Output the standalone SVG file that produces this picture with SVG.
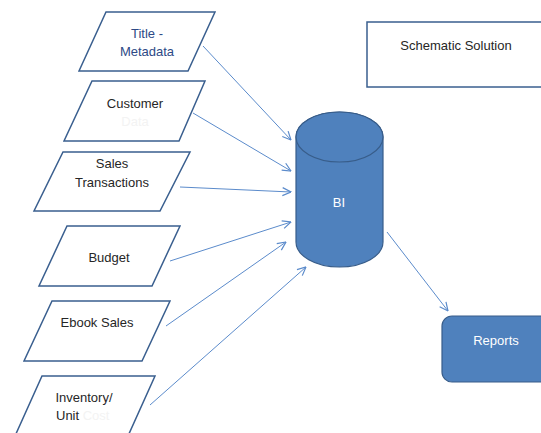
<svg xmlns="http://www.w3.org/2000/svg" width="541" height="433" viewBox="0 0 541 433">
<defs>
<style>
.src{fill:#fff;stroke:#3A5F8F;stroke-width:1.5}
.t{font-family:"Liberation Sans",Arial,sans-serif;font-size:13px;fill:#262626;text-anchor:middle}
.ghost{fill:#f3f3f3}
.w{fill:#fff}
.con line{stroke:#5B8BCB;stroke-width:1;marker-end:url(#ah)}
</style>
<marker id="ah" viewBox="0 0 10 10" refX="9.5" refY="5" markerWidth="10" markerHeight="10" markerUnits="userSpaceOnUse" orient="auto">
<path d="M1,1 L9.5,5 L1,9" fill="none" stroke="#5B8BCB" stroke-width="1.2"/>
</marker>
</defs>
<rect width="541" height="433" fill="#fff"/>
<g id="title">
<polygon class="src" points="106,12 215,12 188,71 79,71"/>
<text class="t" x="147" y="38" style="fill:#2E4A86">Title -</text>
<text class="t" x="147" y="56" style="fill:#2E4A86">Metadata</text>
</g>
<g id="customer">
<polygon class="src" points="92,81 205,81 179,141 64,141"/>
<text class="t" x="135" y="108">Customer</text>
<text class="t ghost" x="135" y="126">Data</text>
</g>
<g id="sales">
<polygon class="src" points="63,152 190,152 160,211 34,211"/>
<text class="t" x="112" y="168">Sales</text>
<text class="t" x="112" y="187">Transactions</text>
</g>
<g id="budget">
<polygon class="src" points="67,226 180,226 152,286 39,286"/>
<text class="t" x="109" y="262">Budget</text>
</g>
<g id="ebook">
<polygon class="src" points="52,301 170,301 142,361 24,361"/>
<text class="t" x="97" y="327">Ebook Sales</text>
</g>
<g id="inventory">
<polygon class="src" points="42,376 155,376 128,436 15,436"/>
<text class="t" x="84" y="402">Inventory/</text>
<text class="t" x="84" y="420" style="text-anchor:start" dx="-28">Unit <tspan class="ghost">Cost</tspan></text>
</g>
<g id="schematic">
<rect x="367" y="22" width="180" height="65" fill="#fff" stroke="#3A5F8F" stroke-width="1.5"/>
<text class="t" x="456" y="50">Schematic Solution</text>
</g>
<g id="bi">
<path d="M296,137 L296,242 A43.5,25 0 0 0 383,242 L383,137 A43.5,25 0 0 0 296,137 Z" fill="#4F81BD" stroke="#385D8A" stroke-width="1.2"/>
<ellipse cx="339.5" cy="137" rx="43.5" ry="25" fill="#4F81BD" stroke="#385D8A" stroke-width="1.2"/>
<text class="t w" x="339" y="207">BI</text>
</g>
<g id="reports">
<rect x="442" y="316" width="110" height="66" rx="10" fill="#4F81BD" stroke="#385D8A" stroke-width="1.2"/>
<text class="t w" x="496" y="345">Reports</text>
</g>
<g id="connectors" class="con">
<line x1="203" y1="46" x2="291" y2="140"/>
<line x1="193" y1="113" x2="291" y2="171"/>
<line x1="180" y1="187" x2="291" y2="192"/>
<line x1="170" y1="261" x2="291" y2="222"/>
<line x1="166" y1="326" x2="286" y2="242"/>
<line x1="150" y1="405" x2="306" y2="267"/>
<line x1="387" y1="232" x2="448" y2="311"/>
</g>
</svg>
